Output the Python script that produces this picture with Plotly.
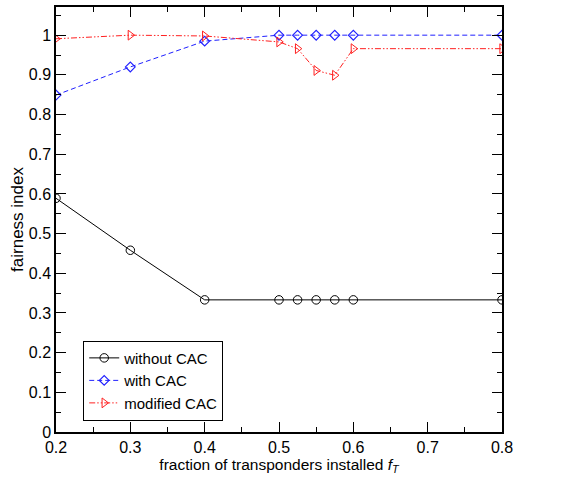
import plotly.graph_objects as go

# Fraction of transponders installed
f_T = [0.2, 0.3, 0.4, 0.5, 0.525, 0.55, 0.575, 0.6, 0.8]

# Fairness index for each admission-control scheme
without_cac = [0.589, 0.458, 0.333, 0.333, 0.333, 0.333, 0.333, 0.333, 0.333]
with_cac = [0.849, 0.92, 0.985, 1.0, 1.0, 1.0, 1.0, 1.0, 1.0]
modified_cac = [0.991, 1.0, 0.998, 0.983, 0.966, 0.911, 0.899, 0.966, 0.966]

x_ticks = [0.2, 0.3, 0.4, 0.5, 0.6, 0.7, 0.8]
y_ticks = [0, 0.1, 0.2, 0.3, 0.4, 0.5, 0.6, 0.7, 0.8, 0.9, 1]
y_tick_text = ["0", "0.1", "0.2", "0.3", "0.4", "0.5", "0.6", "0.7", "0.8", "0.9", "1"]

FONT = "Liberation Sans, Arial, sans-serif"

fig = go.Figure()

fig.add_trace(go.Scatter(
    x=f_T, y=without_cac, name="without CAC", mode="lines+markers",
    line=dict(color="black", width=1),
    marker=dict(symbol="circle-open", size=8.5, color="black", line=dict(width=1)),
))
fig.add_trace(go.Scatter(
    x=f_T, y=with_cac, name="with CAC", mode="lines+markers",
    line=dict(color="#2020ff", width=1, dash="5px,3px"),
    marker=dict(symbol="diamond-open", size=7.5, color="#2020ff", line=dict(width=1.2)),
))
fig.add_trace(go.Scatter(
    x=f_T, y=modified_cac, name="modified CAC", mode="lines+markers",
    line=dict(color="#ff2020", width=1, dash="6px,2px,1.5px,2px,1.5px,2px"),
    marker=dict(symbol="triangle-right-open", size=8.5, color="#ff2020", line=dict(width=1)),
))

axis_common = dict(
    showline=True, linecolor="black", linewidth=1.5, mirror="ticks",
    ticks="inside", ticklen=10, tickwidth=1, tickcolor="black",
    showgrid=False, zeroline=False,
    tickfont=dict(family=FONT, size=16, color="black"),
)

fig.update_xaxes(
    range=[0.2, 0.8], tickvals=x_ticks,
    minor=dict(dtick=0.05, ticks="inside", ticklen=5, tickcolor="black", showgrid=False),
    title=dict(text="fraction of transponders installed <i>f<sub>T</sub></i>",
               font=dict(family=FONT, size=15.5, color="black"),
               standoff=1),
    **axis_common,
)
fig.update_yaxes(
    range=[0, 1.071], tickvals=y_ticks, ticktext=y_tick_text,
    minor=dict(dtick=0.05, ticks="inside", ticklen=5, tickcolor="black", showgrid=False),
    title=dict(text="fairness index",
               font=dict(family=FONT, size=17, color="black"),
               standoff=1),
    **axis_common,
)

fig.update_layout(
    width=570, height=477,
    margin=dict(l=56, r=68, t=5, b=45),
    plot_bgcolor="white", paper_bgcolor="white",
    font=dict(family=FONT, color="black"),
    showlegend=True,
    legend=dict(
        x=0.061, y=0.215, xanchor="left", yanchor="top",
        bgcolor="white", bordercolor="black", borderwidth=1,
        font=dict(size=15, color="black"),
        tracegroupgap=0, itemwidth=30,
    ),
)

fig.write_html("out.html")
